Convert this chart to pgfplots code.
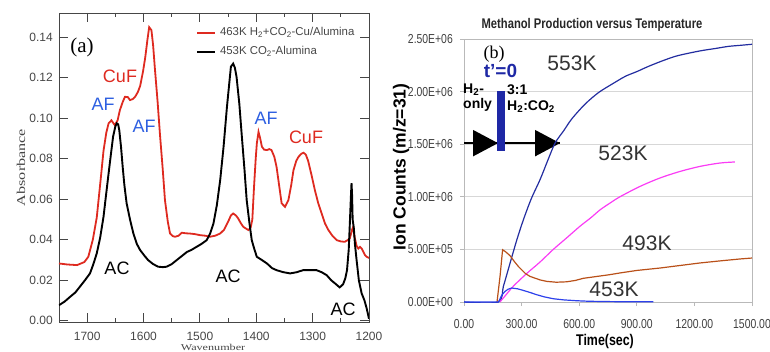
\documentclass[border=0pt]{standalone}
\usepackage{pgfplots}
\pgfplotsset{compat=1.18}
\usepackage{fontspec}
\setmainfont{Liberation Sans}
\newfontfamily\seriffont{Liberation Serif}
\newfontfamily\narrowfont[FakeStretch=0.8]{Liberation Sans}
\definecolor{redA}{RGB}{222,42,32}
\definecolor{blueAF}{RGB}{45,95,225}
\definecolor{navy553}{RGB}{35,45,160}
\definecolor{mag523}{RGB}{250,60,245}
\definecolor{brown493}{RGB}{185,80,25}
\definecolor{blue453}{RGB}{45,65,235}
\definecolor{axgray}{RGB}{70,70,70}
\definecolor{gridgray}{RGB}{215,215,215}
\definecolor{boxgray}{RGB}{185,185,185}
\definecolor{barblue}{RGB}{30,40,165}
\begin{document}
\begin{tikzpicture}[x=1pt,y=1pt]
\useasboundingbox (0,0) rectangle (770,351);
% ---------------- panel (a) ----------------
\begin{axis}[
  at={(59pt,29pt)}, anchor=south west, scale only axis, width=310pt, height=309pt,
  xmin=1200, xmax=1750, x dir=reverse, ymin=-0.0006, ymax=0.152,
  xtick={1200,1300,1400,1500,1600,1700}, xticklabels={1200,1300,1400,1500,1600,1700},
  minor xtick={1250,1350,1450,1550,1650},
  ytick={0,0.02,0.04,0.06,0.08,0.1,0.12,0.14},
  yticklabels={0.00,0.02,0.04,0.06,0.08,0.10,0.12,0.14},
  tick align=inside, major tick length=9pt, minor tick length=4.5pt,
  axis line style={axgray, line width=0.9pt},
  every tick/.style={axgray, line width=0.9pt},
  tick label style={font=\fontsize{12}{12}\selectfont, text=axgray},
  xticklabel style={anchor=center, yshift=-14.5pt, inner sep=0pt},
  yticklabel style={anchor=east, xshift=-6pt, inner sep=0pt},
  no markers,
  legend cell align=left,
  legend style={at={(0.444,0.954)}, anchor=north west, draw=none, fill=none,
    font=\fontsize{11.4}{12}\selectfont, text=axgray, inner sep=0pt, row sep=8pt, column sep=4pt,
    nodes={inner sep=0pt, text height=8.5pt, text depth=2.5pt}},
  legend image code/.code={\draw[#1, line width=1.2pt] (0pt,0pt) -- (18pt,0pt);},
]
\addplot[redA, line width=1.8pt] coordinates {
(1750,0.0283) (1735,0.0278) (1718,0.0275) (1705,0.029) (1698,0.0316) (1690,0.040)
(1683,0.051) (1676,0.070) (1671,0.084) (1666,0.093) (1662,0.0975) (1657,0.099)
(1651,0.0966) (1646,0.099) (1642,0.104) (1637,0.108) (1633,0.1106) (1628,0.1105)
(1624,0.109) (1619,0.1095) (1615,0.1106) (1610,0.113) (1606,0.116) (1601,0.123)
(1597,0.130) (1593,0.139) (1590,0.145) (1586,0.1435) (1583,0.136) (1580,0.125)
(1575,0.108) (1571,0.0925) (1566,0.075) (1562,0.0596) (1557,0.049) (1553,0.0431)
(1548,0.0418) (1544,0.0415) (1538,0.042) (1532,0.0435) (1525,0.0432) (1518,0.0431)
(1509,0.0428) (1500,0.0423) (1490,0.042) (1482,0.0415) (1473,0.042) (1464,0.0431)
(1457,0.045) (1450,0.0489) (1445,0.052) (1441,0.053) (1436,0.052) (1432,0.0505)
(1427,0.048) (1423,0.0464) (1418,0.0455) (1414,0.0448) (1410,0.046) (1407,0.050)
(1404,0.066) (1401,0.080) (1399,0.0876) (1396,0.0933) (1393,0.090) (1390,0.086)
(1386,0.0845) (1381,0.0843) (1377,0.0848) (1373,0.0843) (1368,0.081) (1364,0.076)
(1360,0.068) (1355,0.058) (1349,0.0563) (1343,0.0596) (1338,0.067) (1334,0.0744)
(1329,0.079) (1325,0.081) (1320,0.0825) (1316,0.083) (1312,0.082) (1308,0.079)
(1302,0.072) (1296,0.0645) (1290,0.058) (1284,0.053) (1278,0.048) (1272,0.0448)
(1265,0.042) (1257,0.0398) (1250,0.0392) (1243,0.039) (1238,0.0398) (1234,0.0407)
(1230,0.045) (1228,0.0464) (1226,0.042) (1222,0.037) (1219,0.0357) (1216,0.0365)
(1213,0.0357) (1210,0.034) (1207,0.0324) (1204,0.0316) (1200,0.031)
};
\addlegendentry{463K H\textsubscript{2}+CO\textsubscript{2}-Cu/Alumina}
\addplot[black, line width=1.9pt] coordinates {
(1750,0.0077) (1740,0.0095) (1730,0.0119) (1721,0.014) (1713,0.0168) (1704,0.020)
(1695,0.0234) (1689,0.028) (1683,0.0333) (1677,0.041) (1671,0.0514) (1667,0.061)
(1662,0.0728) (1658,0.082) (1654,0.091) (1650,0.096) (1647.5,0.0975) (1645,0.097)
(1643,0.094) (1640,0.086) (1637,0.076) (1634,0.067) (1630,0.058) (1624,0.050)
(1618,0.0431) (1612,0.038) (1606,0.0349) (1598,0.032) (1592,0.030) (1583,0.028)
(1574,0.0267) (1566,0.0265) (1559,0.0267) (1550,0.028) (1541,0.030) (1532,0.032)
(1523,0.034) (1515,0.035) (1506,0.0365) (1497,0.038) (1488,0.0398) (1482,0.043)
(1476,0.048) (1470,0.057) (1464,0.0695) (1458,0.086) (1452,0.1057) (1448,0.117)
(1445,0.1255) (1441,0.127) (1438,0.125) (1435,0.1205) (1430,0.107) (1426,0.0925)
(1421,0.075) (1417,0.0596) (1412,0.048) (1408,0.0398) (1403,0.035) (1399,0.0316)
(1390,0.030) (1381,0.0283) (1372,0.026) (1364,0.025) (1352,0.024) (1340,0.0234)
(1328,0.024) (1317,0.025) (1305,0.025) (1293,0.025) (1284,0.024) (1275,0.0225)
(1267,0.020) (1260,0.0184) (1252,0.0165) (1246,0.018) (1242,0.021) (1239,0.025)
(1236,0.035) (1234,0.048) (1232,0.062) (1231,0.068) (1230,0.062) (1229,0.050)
(1227,0.046) (1225,0.038) (1222,0.030) (1218,0.020) (1213,0.0135) (1208,0.010)
(1204,0.006) (1200,0.001)
};
\addlegendentry{453K CO\textsubscript{2}-Alumina}
\end{axis}
% ---------------- panel (b) ----------------
\begin{axis}[
  at={(464pt,49pt)}, anchor=south west, scale only axis, width=288pt, height=263pt,
  xmin=0, xmax=1500, ymin=0, ymax=2500000,
  xtick={0,300,600,900,1200,1500},
  xticklabels={0.00,300.00,600.00,900.00,1200.00,1500.00},
  ytick={0,500000,1000000,1500000,2000000,2500000},
  yticklabels={0.00E+00,5.00E+05,1.00E+06,1.50E+06,2.00E+06,2.50E+06},
  scaled ticks=false,
  ymajorgrids, major grid style={gridgray, line width=0.8pt},
  axis line style={boxgray, line width=0.8pt},
  tick pos=left, tick align=outside, major tick length=4pt,
  every tick/.style={boxgray, line width=0.8pt},
  tick label style={font=\narrowfont\fontsize{13}{13}\selectfont, text=black!75},
  xticklabel style={anchor=center, yshift=-18pt, inner sep=0pt},
  yticklabel style={anchor=east, xshift=-7pt, inner sep=0pt},
  no markers,
]
% annotation: arrow line, triangles, bar
\draw[black, line width=1.6pt] (axis cs:0,1510000) -- (axis cs:500,1510000);
\fill[black] (axis cs:47,1384000) -- (axis cs:177,1510000) -- (axis cs:47,1636000) -- cycle;
\fill[black] (axis cs:370,1384000) -- (axis cs:500,1510000) -- (axis cs:370,1636000) -- cycle;
\fill[barblue] (axis cs:172,1432000) rectangle (axis cs:213,2002000);
\addplot[navy553, line width=1.2pt, smooth, tension=0.5] coordinates {
(0,0) (178,0) (205,148000) (240,370000) (275,590000) (309,780000) (350,980000)
(396,1163000) (435,1340000) (474,1510000) (520,1630000) (561,1740000) (630,1880000)
(700,1990000) (770,2070000) (840,2145000) (900,2190000) (961,2240000) (1030,2290000)
(1100,2335000) (1170,2365000) (1239,2390000) (1310,2410000) (1378,2430000)
(1440,2440000) (1500,2450000)
};
\addplot[mag523, line width=1.2pt, smooth, tension=0.5] coordinates {
(187,0) (215,60000) (257,150000) (326,270000) (396,380000) (465,500000) (535,610000)
(604,720000) (660,800000) (708,875000) (760,940000) (812,1000000) (917,1099000)
(1021,1179000) (1125,1241000) (1229,1289000) (1333,1321000) (1411,1331000)
};
\addplot[brown493, line width=1.2pt] coordinates {
(172,0) (188,250000) (201,497000) (215,480000) (240,440000) (262,385000) (283,338000) (320,270000)
(344,243000) (396,210000) (431,196000) (480,188000) (535,192000) (580,205000)
(621,225000) (700,245000) (760,260000) (812,276000) (900,300000) (1021,323000)
(1125,347000) (1229,371000) (1330,390000) (1437,409000) (1500,418000)
};
\addplot[blue453, line width=1.2pt] coordinates {
(0,0) (180,0) (195,60000) (213,100000) (230,122000) (248,133000) (280,125000) (309,110000)
(345,90000) (379,69000) (420,48000) (465,31000) (520,20000) (587,12000) (650,7000)
(750,4000) (850,2000) (986,2000)
};
\end{axis}
% ---------------- texts panel (a) ----------------
\node[font=\seriffont\fontsize{21}{21}\selectfont] at (82,304) {(a)};
\node[text=redA, font=\fontsize{18}{18}\selectfont] at (120,275) {CuF};
\node[text=blueAF, font=\fontsize{18}{18}\selectfont] at (103,247) {AF};
\node[text=blueAF, font=\fontsize{18}{18}\selectfont] at (144,225) {AF};
\node[text=blueAF, font=\fontsize{18}{18}\selectfont] at (266,233) {AF};
\node[text=redA, font=\fontsize{18}{18}\selectfont] at (306,214) {CuF};
\node[font=\fontsize{18}{18}\selectfont] at (117,83) {AC};
\node[font=\fontsize{18}{18}\selectfont] at (228,75) {AC};
\node[font=\fontsize{18}{18}\selectfont] at (343,42) {AC};
\node[rotate=90, text=axgray] at (21,183.5) {\scalebox{1.35}[1]{\seriffont\fontsize{12}{12}\selectfont Absorbance}};
\node[anchor=base, inner sep=0pt, text=axgray] at (213,0.6) {\scalebox{1.35}[1]{\seriffont\fontsize{9}{9}\selectfont Wavenumber}};
% ---------------- texts panel (b) ----------------
\node[font=\narrowfont\bfseries\fontsize{14}{14}\selectfont, text=black!85] at (592,326) {Methanol Production versus Temperature};
\node[rotate=90, font=\bfseries\fontsize{17.5}{17.5}\selectfont] at (401,184) {Ion Counts (m/z=31)};
\node[font=\narrowfont\bfseries\fontsize{15.5}{15.5}\selectfont] at (605,10) {Time(sec)};
\node[font=\seriffont\fontsize{18}{18}\selectfont] at (494,297) {(b)};
\node[text=barblue, font=\bfseries\fontsize{19}{19}\selectfont] at (500.5,280) {t'=0};
\node[anchor=west, inner sep=0pt, font=\bfseries\fontsize{14}{14}\selectfont] at (463,261) {H\textsubscript{2}-};
\node[anchor=west, inner sep=0pt, font=\bfseries\fontsize{14}{14}\selectfont] at (463,246) {only};
\node[anchor=west, inner sep=0pt, font=\bfseries\fontsize{14}{14}\selectfont] at (507,261) {3:1};
\node[anchor=west, inner sep=0pt, font=\bfseries\fontsize{14}{14}\selectfont] at (507,244) {H\textsubscript{2}:CO\textsubscript{2}};
\node[text=black!80, font=\fontsize{21}{21}\selectfont] at (572,288) {553K};
\node[text=black!80, font=\fontsize{21}{21}\selectfont] at (623,198) {523K};
\node[text=black!80, font=\fontsize{21}{21}\selectfont] at (647,108) {493K};
\node[text=black!80, font=\fontsize{21}{21}\selectfont] at (614,62) {453K};
\end{tikzpicture}
\end{document}
